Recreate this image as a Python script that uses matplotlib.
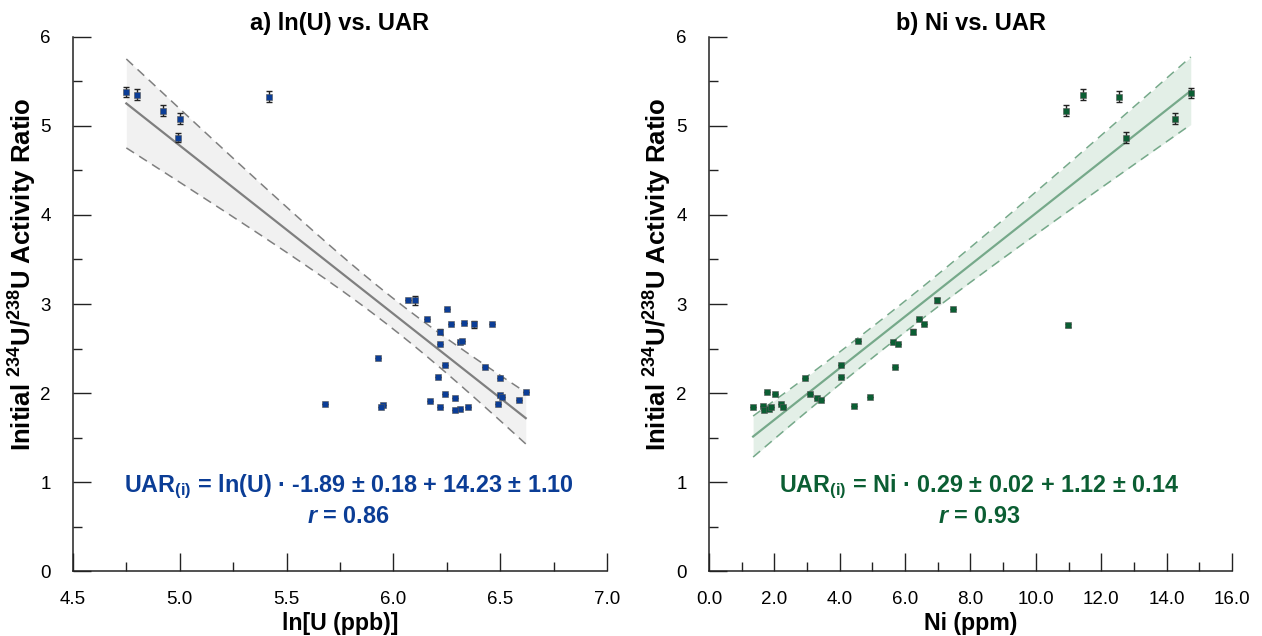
import numpy as np
import matplotlib
matplotlib.use('Agg')
import matplotlib.pyplot as plt
from matplotlib.ticker import MultipleLocator, FormatStrFormatter

plt.rcParams['font.family'] = ['Liberation Sans', 'DejaVu Sans']
plt.rcParams['mathtext.fontset'] = 'custom'
plt.rcParams['mathtext.rm'] = 'Liberation Sans:bold'
plt.rcParams['mathtext.bf'] = 'Liberation Sans:bold'
plt.rcParams['mathtext.it'] = 'Liberation Sans:bold:italic'

# panel a: ln(U) vs initial UAR
ln_u = [4.75, 4.80, 4.92, 5.00, 4.99, 5.42, 6.07, 6.10, 6.25, 6.16, 6.27, 6.33, 6.38,
        6.46, 6.22, 6.22, 6.31, 6.32, 6.24, 6.43, 6.21, 6.50, 6.62, 6.24, 6.29, 6.50,
        6.51, 6.17, 6.59, 6.49, 6.22, 6.35, 6.31, 6.29, 5.93, 5.68, 5.95, 5.94]
uar_a = [5.38, 5.35, 5.17, 5.08, 4.87, 5.33, 3.04, 3.04, 2.94, 2.83, 2.78, 2.79, 2.77,
         2.77, 2.69, 2.55, 2.57, 2.58, 2.31, 2.29, 2.18, 2.17, 2.01, 1.99, 1.94, 1.98,
         1.96, 1.91, 1.92, 1.88, 1.84, 1.84, 1.82, 1.81, 2.39, 1.88, 1.87, 1.84]
err_a = [0.06, 0.06, 0.06, 0.06, 0.05, 0.06, 0.0, 0.05, 0.0, 0.0, 0.0, 0.0, 0.04,
         0.0, 0.03, 0.0, 0.0, 0.0, 0.0, 0.0, 0.0, 0.0, 0.0, 0.0, 0.0, 0.0,
         0.0, 0.0, 0.0, 0.0, 0.0, 0.0, 0.0, 0.0, 0.0, 0.0, 0.0, 0.0]

# panel b: Ni vs initial UAR
ni = [10.92, 11.44, 12.54, 12.75, 14.25, 14.74, 10.98, 1.35, 1.65, 1.68, 1.77, 1.83,
      1.90, 2.02, 2.20, 2.26, 2.94, 3.09, 3.30, 3.42, 4.04, 4.04, 4.43, 4.56, 4.92,
      5.63, 5.78, 5.69, 6.24, 6.42, 6.57, 6.97, 7.46]
uar_b = [5.17, 5.35, 5.33, 4.87, 5.08, 5.37, 2.76, 1.84, 1.85, 1.81, 2.01, 1.82,
         1.84, 1.99, 1.88, 1.84, 2.17, 1.99, 1.95, 1.92, 2.31, 2.18, 1.86, 2.58, 1.96,
         2.57, 2.55, 2.29, 2.69, 2.83, 2.78, 3.04, 2.94]
err_b = [0.06, 0.06, 0.06, 0.06, 0.06, 0.06, 0.02, 0.0, 0.0, 0.0, 0.0, 0.0,
         0.0, 0.0, 0.0, 0.0, 0.0, 0.0, 0.0, 0.0, 0.0, 0.0, 0.0, 0.0, 0.0,
         0.0, 0.0, 0.0, 0.03, 0.0, 0.0, 0.03, 0.0]

# regression (slope, intercept) and band shape (centre x, half-width at centre, growth)
fit_a = dict(slope=-1.89, icpt=14.23, xm=6.0, hw0=0.172, k=0.375)
fit_b = dict(slope=0.29, icpt=1.12, xm=5.5, hw0=0.173, k=0.0366)

BLUE = '#0b3d96'
GREEN = '#0b5e33'


def style_axes(ax, xlim, xmajor, xfmt, ylab_x):
    ax.set_xlim(*xlim)
    ax.set_ylim(0, 6)
    for s in ('top', 'right'):
        ax.spines[s].set_visible(False)
    for s in ('left', 'bottom'):
        ax.spines[s].set_linewidth(1.1)
        ax.spines[s].set_color('#222222')
    ax.xaxis.set_major_locator(MultipleLocator(xmajor))
    ax.xaxis.set_minor_locator(MultipleLocator(xmajor / 2))
    ax.xaxis.set_major_formatter(FormatStrFormatter(xfmt))
    ax.yaxis.set_major_locator(MultipleLocator(1))
    ax.yaxis.set_minor_locator(MultipleLocator(0.5))
    ax.tick_params(which='major', direction='in', length=13, width=1.0, labelsize=13.5, color='#222222')
    ax.tick_params(which='minor', direction='in', length=6.5, width=1.0, color='#222222')
    ax.tick_params(axis='x', which='major', pad=14)
    ax.tick_params(axis='y', which='major', pad=16)
    ax.set_ylabel(r'Initial $^{234}$U/$^{238}$U Activity Ratio', fontsize=18.5, fontweight='bold',
                  va='center')
    ax.yaxis.set_label_coords(ylab_x, 0.556)


def draw_panel(ax, x, y, yerr, fit, mcol, line_col, fill_col, eq, r_txt, title, xlabel):
    x = np.asarray(x)
    xs = np.linspace(x.min(), x.max(), 200)
    ys = fit['slope'] * xs + fit['icpt']
    hw = np.sqrt(fit['hw0'] ** 2 + (fit['k'] * (xs - fit['xm'])) ** 2)
    ax.fill_between(xs, ys - hw, ys + hw, color=fill_col, lw=0, zorder=1)
    ax.plot(xs, ys + hw, color=line_col, lw=1.1, ls=(0, (6, 4)), zorder=2)
    ax.plot(xs, ys - hw, color=line_col, lw=1.1, ls=(0, (6, 4)), zorder=2)
    ax.plot(xs, ys, color=line_col, lw=1.6, zorder=2)
    ax.errorbar(x, y, yerr=yerr, fmt='none', ecolor='#222222', elinewidth=1.0,
                capsize=2, capthick=1.0, zorder=3)
    ax.plot(x, y, 's', ms=4.8, mfc=mcol, mec='#555555', mew=0.4, zorder=4)
    ax.text(0.516, 0.157, eq, transform=ax.transAxes, ha='center', va='center',
            fontsize=16.8, fontweight='bold', color=mcol)
    ax.text(0.516, 0.103, r_txt, transform=ax.transAxes, ha='center', va='center',
            fontsize=16.8, fontweight='bold', color=mcol)
    ax.set_title(title, fontsize=17, fontweight='bold', pad=5)
    ax.set_xlabel(xlabel, fontsize=16.7, fontweight='bold', labelpad=3)


fig = plt.figure(figsize=(12.62, 6.36), dpi=100)
ax_a = fig.add_axes([0.0578, 0.102, 0.4231, 0.840])
ax_b = fig.add_axes([0.5618, 0.102, 0.4144, 0.840])

style_axes(ax_a, (4.5, 7.0), 0.5, '%.1f', -0.094)
style_axes(ax_b, (0.0, 16.0), 2.0, '%.1f', -0.097)

draw_panel(ax_a, ln_u, uar_a, err_a, fit_a, BLUE, '#7f7f7f', '#f1f1f1',
           r'UAR$_{\mathrm{(i)}}$ = ln(U) · -1.89 ± 0.18 + 14.23 ± 1.10',
           r'$\mathit{r}$ = 0.86', 'a) ln(U) vs. UAR', 'ln[U (ppb)]')
draw_panel(ax_b, ni, uar_b, err_b, fit_b, GREEN, '#76a98a', '#e3efe7',
           r'UAR$_{\mathrm{(i)}}$ = Ni · 0.29 ± 0.02 + 1.12 ± 0.14',
           r'$\mathit{r}$ = 0.93', 'b) Ni vs. UAR', 'Ni (ppm)')

fig.savefig('out.png', dpi=100)
